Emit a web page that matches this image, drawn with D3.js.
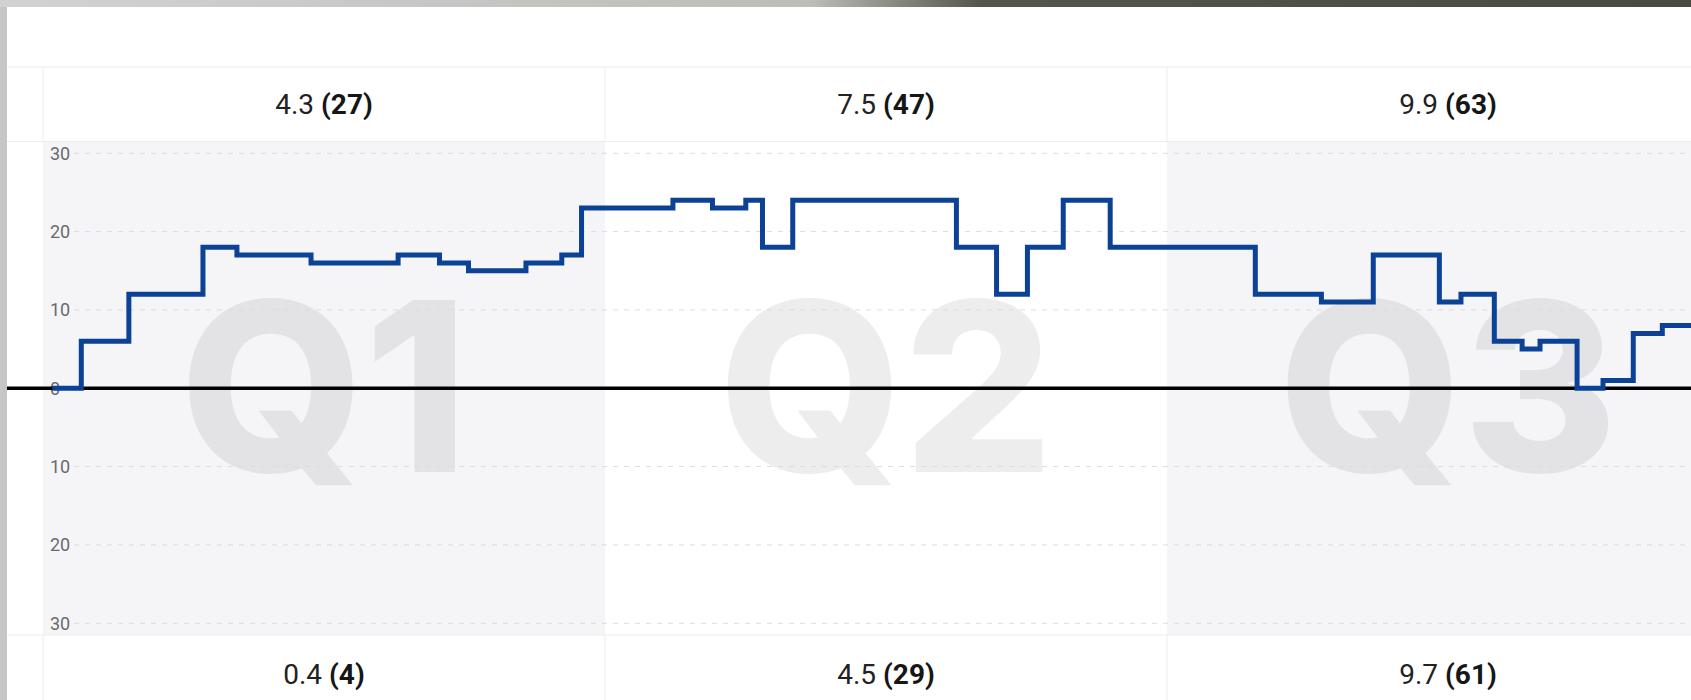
<!DOCTYPE html>
<meta charset="utf-8">
<style>
    html, body {
        margin: 0;
        padding: 0;
        overflow: hidden;
        background: #c9c9c9;
    }

    svg {
        display: block;
    }

    .cell-text {
        font: 28px Roboto, "Liberation Sans", sans-serif;
        fill: #222;
    }

    .cell-text .count {
        font-weight: bold;
        fill: #161616;
    }

    .tick-label {
        font: 18px Roboto, "Liberation Sans", sans-serif;
        fill: #6a6a6a;
    }

    .watermark {
        font: 800 236px Inter, Roboto, "Liberation Sans", sans-serif;
        fill: #000;
        fill-opacity: 0.072;
    }

    .grid {
        stroke: #dcdcdc;
        stroke-width: 1px;
        stroke-dasharray: 5, 6;
    }

    .divider {
        stroke: #ececec;
        stroke-width: 1px;
    }

    .step-line {
        fill: none;
        stroke: #0b4296;
        stroke-width: 5px;
        stroke-linejoin: miter;
    }
</style>
<svg width="1691" height="700"></svg>
<script src="https://cdn.jsdelivr.net/npm/d3@7"></script>
<script>

    // quarters and their summary cells (top row / bottom row)
    const quarters = ["Q1", "Q2", "Q3"];
    const topAvg = ["4.3", "7.5", "9.9"];
    const topCount = [27, 47, 63];
    const bottomAvg = ["0.4", "4.5", "9.7"];
    const bottomCount = [4, 29, 61];

    // step series: day of year where the value changes, and the new value
    const stepDays = [1.5, 6.2, 13.9, 25.9, 31.4, 43.4, 57.5, 64.2, 68.9, 78.2,
        84.0, 87.2, 102.0, 108.4, 113.8, 116.5, 121.4, 147.9, 154.4, 159.4,
        165.2, 172.8, 196.3, 207.0, 215.4, 226.1, 229.6, 235.0, 239.5, 242.4,
        248.4, 252.6, 257.5, 262.2];
    const stepValues = [0, 6, 12, 18, 17, 16, 17, 16, 15, 16,
        17, 23, 24, 23, 24, 18, 24, 18, 12, 18,
        24, 18, 12, 11, 17, 11, 12, 6, 5, 6,
        0, 1, 7, 8];

    const yTicks = [-30, -20, -10, 0, 10, 20, 30];

    const daysPerQuarter = 91;
    const quarterWidth = 562;

    var svg = d3.select("svg"),
        width = +svg.attr("width"),
        height = +svg.attr("height");

    const panelLeft = 7, panelTop = 7;
    const chartLeft = 43;
    const headerTop = 67, chartTop = 141.5, chartBottom = 635;

    var x = d3.scaleLinear()
        .domain([0, daysPerQuarter * quarters.length])
        .range([chartLeft, chartLeft + quarterWidth * quarters.length]);

    var y = d3.scaleLinear()
        .domain([-31.5, 31.5])
        .range([chartBottom, chartTop]);

    // backdrop behind the panel
    var defs = svg.append("defs");
    var grad = defs.append("linearGradient").attr("id", "topStrip");
    grad.append("stop").attr("offset", "0%").attr("stop-color", "#d2d2d2");
    grad.append("stop").attr("offset", "48%").attr("stop-color", "#bcbcb8");
    grad.append("stop").attr("offset", "58%").attr("stop-color", "#55554a");
    grad.append("stop").attr("offset", "100%").attr("stop-color", "#4a4a42");

    svg.append("rect").attr("width", width).attr("height", height).attr("fill", "#c6c6c6");
    svg.append("rect").attr("width", width).attr("height", panelTop).attr("fill", "url(#topStrip)");

    // white panel
    svg.append("rect")
        .attr("x", panelLeft).attr("y", panelTop)
        .attr("width", width - panelLeft).attr("height", height - panelTop)
        .attr("fill", "#fff");

    var q = svg.append("g").selectAll(".quarter")
        .data(quarters)
        .enter().append("g")
        .attr("class", "quarter")
        .attr("transform", function(d, i) { return "translate(" + x(i * daysPerQuarter) + ",0)"; });

    // alternating column background
    q.append("rect")
        .attr("y", chartTop)
        .attr("width", quarterWidth)
        .attr("height", chartBottom - chartTop)
        .attr("fill", function(d, i) { return i % 2 === 0 ? "#f5f5f8" : "#fff"; });

    q.append("text")
        .attr("class", "watermark")
        .attr("x", quarterWidth / 2)
        .attr("y", y(0) + 84)
        .attr("text-anchor", "middle")
        .text(function(d) { return d; });

    // header and footer cell dividers
    var dividerX = [chartLeft].concat(quarters.map(function(d, i) { return x((i + 1) * daysPerQuarter); }));
    svg.append("g").selectAll("line")
        .data(dividerX)
        .enter().append("line")
        .attr("class", "divider")
        .attr("x1", function(d) { return d; }).attr("x2", function(d) { return d; })
        .attr("y1", headerTop).attr("y2", chartTop);
    svg.append("g").selectAll("line")
        .data(dividerX)
        .enter().append("line")
        .attr("class", "divider")
        .attr("x1", function(d) { return d; }).attr("x2", function(d) { return d; })
        .attr("y1", chartBottom).attr("y2", height);

    [headerTop, chartTop, chartBottom].forEach(function(yy) {
        svg.append("line")
            .attr("class", "divider")
            .attr("x1", panelLeft).attr("x2", width)
            .attr("y1", yy).attr("y2", yy);
    });

    function cellText(sel, avg, count, yPos) {
        var t = sel.append("text")
            .attr("class", "cell-text")
            .attr("x", quarterWidth / 2)
            .attr("y", yPos)
            .attr("dy", "0.35em")
            .attr("text-anchor", "middle");
        t.append("tspan").text(function(d, i) { return avg[i] + " "; });
        t.append("tspan").attr("class", "count").text(function(d, i) { return "(" + count[i] + ")"; });
    }

    cellText(q, topAvg, topCount, (headerTop + chartTop) / 2);
    cellText(q, bottomAvg, bottomCount, 674);

    // y grid + labels (absolute values both ways)
    var grid = svg.append("g");
    grid.selectAll(".grid")
        .data(yTicks.filter(function(d) { return d !== 0; }))
        .enter().append("line")
        .attr("class", "grid")
        .attr("x1", 74).attr("x2", width)
        .attr("y1", function(d) { return y(d); })
        .attr("y2", function(d) { return y(d); });

    grid.selectAll(".tick-label")
        .data(yTicks)
        .enter().append("text")
        .attr("class", "tick-label")
        .attr("x", 50)
        .attr("y", function(d) { return y(d); })
        .attr("dy", "0.35em")
        .text(function(d) { return Math.abs(d); });

    // zero line
    svg.append("line")
        .attr("x1", panelLeft).attr("x2", width)
        .attr("y1", y(0)).attr("y2", y(0))
        .attr("stroke", "#000")
        .attr("stroke-width", 3.5);

    var points = stepDays.map(function(d, i) { return [d, stepValues[i]]; });
    points.push([daysPerQuarter * quarters.length, stepValues[stepValues.length - 1]]);

    var line = d3.line()
        .x(function(d) { return x(d[0]); })
        .y(function(d) { return y(d[1]); })
        .curve(d3.curveStepAfter);

    svg.append("path")
        .datum(points)
        .attr("class", "step-line")
        .attr("d", line);

</script>
